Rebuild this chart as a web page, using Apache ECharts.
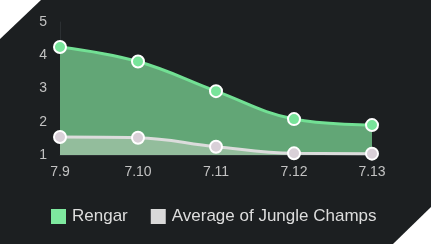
<!DOCTYPE html>
<html><head><meta charset="utf-8">
<script src="https://cdn.jsdelivr.net/npm/echarts@6/dist/echarts.min.js"></script>
<style>html,body{margin:0;padding:0;background:#fff}#c{width:431px;height:244px}</style>
</head><body><div id="c"></div>
<script>
const categories = ['7.9','7.10','7.11','7.12','7.13'];
const rengar = [4.25, 3.81, 2.92, 2.08, 1.9];
const average = [1.54, 1.52, 1.25, 1.05, 1.04];
const seriesNames = ['Rengar', 'Average of Jungle Champs'];

const chart = echarts.init(document.getElementById('c'), null, {renderer:'canvas'});
chart.setOption({
  backgroundColor: '#1c1f21',
  animation: false,
  grid: {left: 60, right: 59, top: 22, bottom: 89},
  legend: {
    data: [
      {name: seriesNames[0], itemStyle: {color: '#7ee89f', borderWidth: 0}},
      {name: seriesNames[1], itemStyle: {color: '#d9d9d9', borderWidth: 0}}
    ],
    bottom: 14,
    left: 46,
    icon: 'rect',
    itemWidth: 15, itemHeight: 15, itemGap: 23,
    textStyle: {color: '#dddddd', fontSize: 17, fontFamily: 'Liberation Sans', padding: [0,0,0,1]}
  },
  xAxis: {
    type: 'category', data: categories, boundaryGap: false,
    axisLine: {show: true, lineStyle: {color: '#2c3033'}},
    axisTick: {show: false},
    axisLabel: {color: '#c2c2c2', fontSize: 14, margin: 10, fontFamily: 'Liberation Sans'},
    splitLine: {show: false}
  },
  yAxis: {
    type: 'value', min: 1, max: 5, interval: 1,
    axisLine: {show: true, lineStyle: {color: '#2c3033'}},
    axisTick: {show: false},
    axisLabel: {color: '#c2c2c2', fontSize: 14, margin: 13, fontFamily: 'Liberation Sans'},
    splitLine: {show: false}
  },
  series: [
    {
      name: seriesNames[0], type: 'line', data: rengar, smooth: 0.4,
      symbol: 'circle', symbolSize: 12,
      lineStyle: {color: '#72e094', width: 3},
      itemStyle: {color: '#78e49a', borderColor: '#ffffff', borderWidth: 2},
      areaStyle: {color: '#62a676', opacity: 1, origin: 'start'},
      z: 2
    },
    {
      name: seriesNames[1], type: 'line', data: average, smooth: 0.4,
      symbol: 'circle', symbolSize: 12,
      lineStyle: {color: '#dcdcdc', width: 3},
      itemStyle: {color: '#d9d0d8', borderColor: '#ffffff', borderWidth: 2},
      areaStyle: {color: '#93bd9c', opacity: 1, origin: 'start'},
      z: 3
    }
  ],
  graphic: [
    {type: 'polygon', shape: {points: [[0,0],[41,0],[0,39]]}, style: {fill: '#ffffff'}, z: 100},
    {type: 'polygon', shape: {points: [[431,207],[431,244],[393,244]]}, style: {fill: '#ffffff'}, z: 100}
  ]
});
</script></body></html>
